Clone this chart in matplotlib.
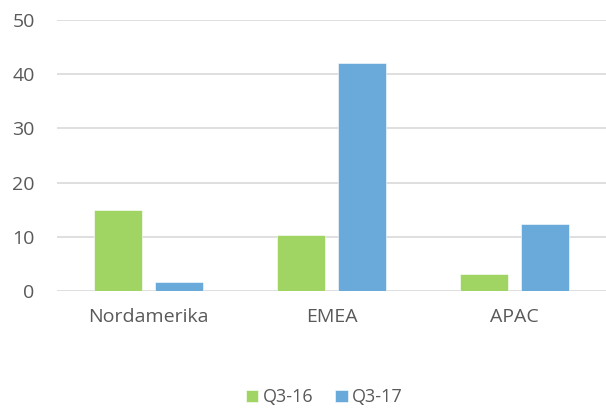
import matplotlib.pyplot as plt
import numpy as np

regions = ["Nordamerika", "EMEA", "APAC"]
q3_16 = [14.9, 10.3, 3.1]
q3_17 = [1.6, 42.0, 12.4]
series_names = ["Q3-16", "Q3-17"]

GREEN = "#A0D564"
BLUE = "#6AAADB"
TEXT = "#595959"

plt.rcParams['font.family'] = ['Open Sans', 'DejaVu Sans']

fig = plt.figure(figsize=(6.06, 4.09), dpi=100)
ax = fig.add_axes([0.094, 0.2885, 0.906, 0.6625])

x = np.arange(len(regions))
w = 0.265
off = 0.166
ax.bar(x - off, q3_16, w, color=GREEN, label=series_names[0], zorder=3,
       edgecolor="white", linewidth=0.4)
ax.bar(x + off, q3_17, w, color=BLUE, label=series_names[1], zorder=3,
       edgecolor="white", linewidth=0.4)

ax.set_xlim(-0.5, 2.5)
ax.set_ylim(0, 50)
ax.set_yticks(range(0, 51, 10))
ax.set_xticks(x)
ax.set_xticklabels(regions)
ax.grid(axis="y", color="#D9D9D9", linewidth=1.2, zorder=0)
for s in ax.spines.values():
    s.set_visible(False)
ax.tick_params(length=0, labelsize=14, labelcolor=TEXT)
ax.tick_params(axis="y", pad=16)
ax.tick_params(axis="x", pad=12)

ax.legend(loc="center", bbox_to_anchor=(0.487, -0.393), ncol=2, frameon=False,
          fontsize=13, labelcolor=TEXT, handlelength=0.7, handleheight=0.7,
          handletextpad=0.25, columnspacing=1.2)

fig.savefig("out.png", dpi=100)
